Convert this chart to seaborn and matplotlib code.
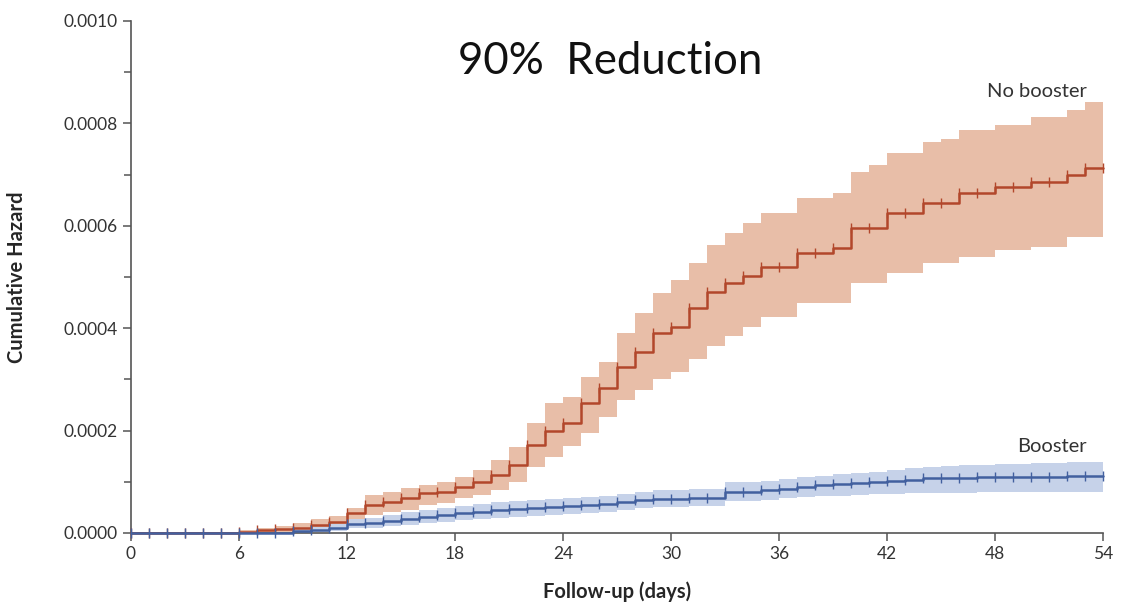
import matplotlib
matplotlib.use("Agg")
import matplotlib.pyplot as plt
import matplotlib.ticker as mticker
import seaborn as sns
import pandas as pd

# =============================
# Data
# =============================
days = list(range(0, 55))

no_booster = [
    0, 0, 0, 0, 0, 0, 0.000002, 0.000005, 0.000007, 0.00001,
    0.000016, 0.000021, 0.000039, 0.000055, 0.000061, 0.000068, 0.000078, 0.00008, 0.00009, 0.0001,
    0.000113, 0.000133, 0.000172, 0.0002, 0.000215, 0.000254, 0.000283, 0.000324, 0.000354, 0.00039,
    0.000402, 0.000439, 0.000471, 0.000488, 0.000502, 0.00052, 0.00052, 0.000547, 0.000547, 0.000556,
    0.000596, 0.000596, 0.000625, 0.000625, 0.000645, 0.000645, 0.000664, 0.000664, 0.000676, 0.000676,
    0.000686, 0.000686, 0.0007, 0.000712, 0.000712,
]
no_booster_hi = [
    0.000001, 0.000001, 0.000001, 0.000001, 0.000001, 0.000001, 0.000006, 0.00001, 0.000014, 0.00002,
    0.000028, 0.000034, 0.000049, 0.000074, 0.00008, 0.000087, 0.000094, 0.0001, 0.00011, 0.000123,
    0.000143, 0.000168, 0.000215, 0.000254, 0.000266, 0.000305, 0.000334, 0.00039, 0.00043, 0.000469,
    0.000494, 0.000527, 0.000562, 0.000586, 0.000605, 0.000625, 0.000625, 0.000654, 0.000654, 0.000664,
    0.000705, 0.000719, 0.000742, 0.000742, 0.000764, 0.00077, 0.000787, 0.000787, 0.000797, 0.000797,
    0.000812, 0.000812, 0.000826, 0.000842, 0.000842,
]
no_booster_lo = [
    0, 0, 0, 0, 0, 0, 0, 0.000001, 0.000002, 0.000004,
    0.000007, 0.00001, 0.000025, 0.000035, 0.000041, 0.000045, 0.000055, 0.000058, 0.000068, 0.000074,
    0.000084, 0.0001, 0.000129, 0.000148, 0.00017, 0.000195, 0.000227, 0.00026, 0.00028, 0.0003,
    0.000315, 0.00034, 0.000365, 0.000385, 0.000402, 0.000422, 0.000422, 0.000449, 0.000449, 0.000449,
    0.000488, 0.000488, 0.000508, 0.000508, 0.000527, 0.000527, 0.000539, 0.000539, 0.000553, 0.000553,
    0.000559, 0.000559, 0.000578, 0.000578, 0.000578,
]

booster = [
    0, 0, 0, 0, 0, 0, 0, 0, 0, 0.000003,
    0.000006, 0.00001, 0.000018, 0.00002, 0.000024, 0.000028, 0.000031, 0.000035, 0.000039, 0.000041,
    0.000044, 0.000046, 0.000048, 0.00005, 0.000052, 0.000054, 0.000057, 0.00006, 0.000064, 0.000066,
    0.000067, 0.000068, 0.000069, 0.00008, 0.000081, 0.000083, 0.000086, 0.00009, 0.000093, 0.000095,
    0.000098, 0.0001, 0.000102, 0.000104, 0.000107, 0.000108, 0.000108, 0.000109, 0.000109, 0.00011,
    0.00011, 0.00011, 0.000111, 0.000111, 0.000111,
]
booster_hi = [
    0.000001, 0.000001, 0.000001, 0.000001, 0.000001, 0.000001, 0.000001, 0.000001, 0.000002, 0.000008,
    0.000012, 0.000018, 0.000028, 0.00003, 0.000035, 0.00004, 0.000044, 0.000049, 0.000053, 0.000056,
    0.00006, 0.000062, 0.000064, 0.000066, 0.000068, 0.00007, 0.000073, 0.000076, 0.00008, 0.000083,
    0.000084, 0.000085, 0.000086, 0.000099, 0.0001, 0.000102, 0.000105, 0.000109, 0.000112, 0.000115,
    0.000118, 0.00012, 0.000123, 0.000126, 0.000129, 0.000131, 0.000132, 0.000133, 0.000134, 0.000135,
    0.000136, 0.000137, 0.000138, 0.000139, 0.000139,
]
booster_lo = [
    0, 0, 0, 0, 0, 0, 0, 0, 0, 0,
    0.000001, 0.000004, 0.000009, 0.00001, 0.000013, 0.000016, 0.000019, 0.000022, 0.000025, 0.000027,
    0.000029, 0.000031, 0.000033, 0.000035, 0.000037, 0.000039, 0.000041, 0.000044, 0.000048, 0.00005,
    0.000051, 0.000052, 0.000053, 0.000062, 0.000063, 0.000065, 0.000068, 0.000071, 0.000072, 0.000073,
    0.000074, 0.000076, 0.000077, 0.000078, 0.000079, 0.000079, 0.000079, 0.00008, 0.00008, 0.00008,
    0.00008, 0.00008, 0.00008, 0.00008, 0.00008,
]

groups = ["No booster", "Booster"]
line_colors = {"No booster": "#b2472b", "Booster": "#42609f"}
band_colors = {"No booster": "#e8bea8", "Booster": "#c6d2e9"}

x_ticks = [0, 6, 12, 18, 24, 30, 36, 42, 48, 54]
y_ticks = [0.0, 0.0002, 0.0004, 0.0006, 0.0008, 0.0010]

df = pd.concat([
    pd.DataFrame({"day": days, "hazard": no_booster, "lo": no_booster_lo,
                  "hi": no_booster_hi, "group": "No booster"}),
    pd.DataFrame({"day": days, "hazard": booster, "lo": booster_lo,
                  "hi": booster_hi, "group": "Booster"}),
], ignore_index=True)

# =============================
# Plotting
# =============================
sns.set_style("ticks")
plt.rcParams["font.family"] = ["Lato", "DejaVu Sans"]

fig = plt.figure(figsize=(11.45, 6.08), dpi=100)
ax = fig.add_axes([0.1144, 0.1234, 0.8489, 0.8421])

for g in groups:
    sub = df[df["group"] == g]
    ax.fill_between(sub["day"], sub["lo"], sub["hi"], step="post",
                    color=band_colors[g], linewidth=0, zorder=1)

for g in groups:
    sns.lineplot(
        data=df[df["group"] == g], x="day", y="hazard", color=line_colors[g],
        drawstyle="steps-post", marker="|", markersize=7, markeredgewidth=1.0,
        markeredgecolor=line_colors[g], linewidth=1.8, legend=False, ax=ax,
        zorder=3, clip_on=False,
    )

ax.set_xlim(0, 54)
ax.set_ylim(0, 0.0010)
ax.set_xticks(x_ticks)
ax.set_yticks(y_ticks)
ax.yaxis.set_minor_locator(mticker.MultipleLocator(0.0001))
ax.yaxis.set_major_formatter(mticker.FormatStrFormatter("%.4f"))

sns.despine(ax=ax)
for side in ["left", "bottom"]:
    ax.spines[side].set_color("#555555")
    ax.spines[side].set_linewidth(1.2)

ax.tick_params(axis="both", which="major", direction="out", length=6,
               width=1.1, color="#555555", labelsize=12.5, labelcolor="#333333")
ax.tick_params(axis="y", which="minor", direction="out", length=5,
               width=1.1, color="#555555")

ax.set_xlabel("Follow-up (days)", fontsize=14.5, fontweight="bold", labelpad=14)
ax.set_ylabel("Cumulative Hazard", fontsize=14.5, fontweight="bold", labelpad=26)

ax.text(0.493, 0.92, "90%  Reduction", transform=ax.transAxes,
        ha="center", va="center", fontsize=31.5, color="#111111")
ax.text(0.932, 0.863, "No booster", transform=ax.transAxes,
        ha="center", va="center", fontsize=14.5, color="#333333")
ax.text(0.948, 0.168, "Booster", transform=ax.transAxes,
        ha="center", va="center", fontsize=14.5, color="#333333")

plt.savefig("out.png", dpi=100)
